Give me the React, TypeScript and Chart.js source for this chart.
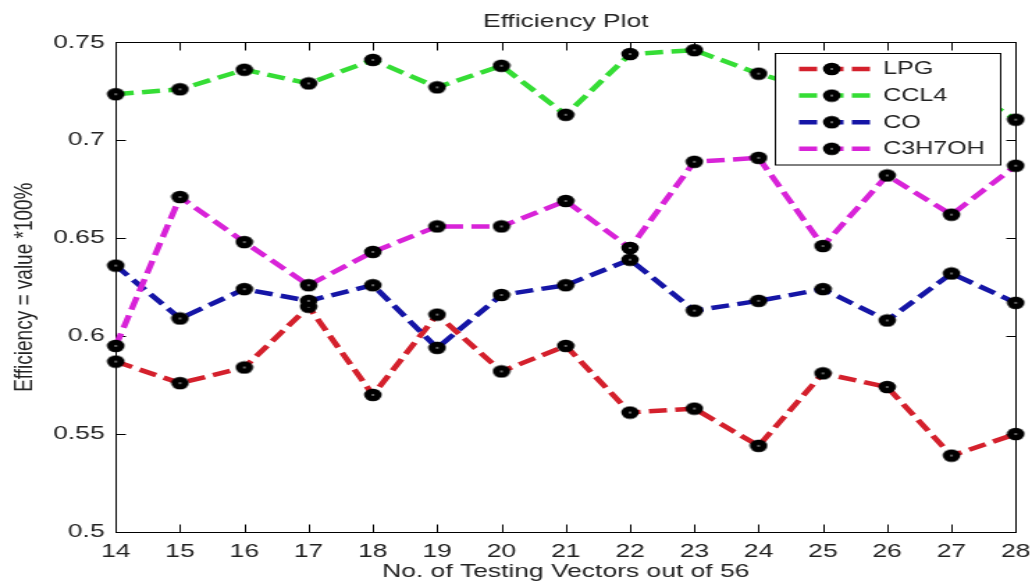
import { useEffect, useRef } from "react";
import { Chart, registerables } from "chart.js";

Chart.register(...registerables);

// Testing vectors on the x axis
const testingVectors = [14, 15, 16, 17, 18, 19, 20, 21, 22, 23, 24, 25, 26, 27, 28];

// Efficiency per gas
const lpg = [0.587, 0.576, 0.584, 0.615, 0.57, 0.611, 0.582, 0.595, 0.561, 0.563, 0.544, 0.581, 0.574, 0.539, 0.55];
const ccl4 = [0.7235, 0.726, 0.736, 0.729, 0.741, 0.727, 0.738, 0.713, 0.744, 0.746, 0.734, 0.7245, 0.729, 0.731, 0.7105];
const co = [0.636, 0.609, 0.624, 0.618, 0.626, 0.594, 0.621, 0.626, 0.639, 0.613, 0.618, 0.624, 0.608, 0.632, 0.617];
const c3h7oh = [0.595, 0.671, 0.648, 0.626, 0.643, 0.656, 0.656, 0.669, 0.645, 0.689, 0.691, 0.646, 0.682, 0.662, 0.687];

const yTicks = [0.5, 0.55, 0.6, 0.65, 0.7, 0.75];

const seriesNames = ["LPG", "CCL4", "CO", "C3H7OH"];
const seriesValues = [lpg, ccl4, co, c3h7oh];
const seriesColors = ["#d4202c", "#35dd35", "#1515a6", "#d823d8"];

const FONT = "'Liberation Sans', Arial, Helvetica, sans-serif";
const TEXT = "#222222";
// The figure is drawn on a narrower canvas and widened by CSS.
const CANVAS_W = 742;
const CANVAS_H = 588;
const DISPLAY_W = 1032;
const DASH = [13, 6];
const LINE_W = 4.5;

function makeMarker(): HTMLCanvasElement {
  const c = document.createElement("canvas");
  c.width = 14;
  c.height = 14;
  const g = c.getContext("2d")!;
  g.fillStyle = "#000";
  g.beginPath();
  g.arc(7, 7, 6.3, 0, Math.PI * 2);
  g.fill();
  g.fillStyle = "#fff";
  g.beginPath();
  g.arc(7, 7, 0.75, 0, Math.PI * 2);
  g.fill();
  return c;
}

export default function App() {
  const canvasRef = useRef<HTMLCanvasElement | null>(null);

  useEffect(() => {
    const canvas = canvasRef.current;
    if (!canvas) return;
    const marker = makeMarker();

    // Axes box with inward ticks on all four sides
    const framePlugin = {
      id: "frameBox",
      beforeDatasetsDraw(chart: any) {
        const { ctx, chartArea: a, scales } = chart;
        ctx.save();
        ctx.strokeStyle = "#000";
        ctx.lineWidth = 1;
        ctx.setLineDash([]);
        const l = Math.round(a.left) + 0.5;
        const r = Math.round(a.right) + 0.5;
        const t = Math.round(a.top) + 0.5;
        const b = Math.round(a.bottom) + 0.5;
        ctx.strokeRect(l, t, r - l, b - t);
        ctx.beginPath();
        for (const v of testingVectors) {
          const px = Math.round(scales.x.getPixelForValue(v)) + 0.5;
          ctx.moveTo(px, b);
          ctx.lineTo(px, b - 8);
          ctx.moveTo(px, t);
          ctx.lineTo(px, t + 8);
        }
        for (const v of yTicks) {
          const py = Math.round(scales.y.getPixelForValue(v)) + 0.5;
          ctx.moveTo(l, py);
          ctx.lineTo(l + 7, py);
          ctx.moveTo(r, py);
          ctx.lineTo(r - 7, py);
        }
        ctx.stroke();
        ctx.restore();
      },
    };

    // Boxed legend in the upper right corner
    const legendPlugin = {
      id: "boxLegend",
      afterDatasetsDraw(chart: any) {
        const { ctx } = chart;
        ctx.save();
        const bx = 557.5;
        const by = 53.5;
        const bw = 162;
        const bh = 111.5;
        ctx.fillStyle = "#fff";
        ctx.fillRect(bx, by, bw, bh);
        ctx.strokeStyle = "#000";
        ctx.lineWidth = 1;
        ctx.strokeRect(bx, by, bw, bh);
        seriesNames.forEach((name, i) => {
          const y = 69 + i * 26.6;
          ctx.strokeStyle = seriesColors[i];
          ctx.lineWidth = LINE_W;
          ctx.setLineDash(DASH);
          ctx.beginPath();
          ctx.moveTo(574.5, y);
          ctx.lineTo(630, y);
          ctx.stroke();
          ctx.setLineDash([]);
          ctx.drawImage(marker, 598 - 7, y - 7);
          ctx.fillStyle = TEXT;
          ctx.font = `18px ${FONT}`;
          ctx.textBaseline = "middle";
          ctx.textAlign = "left";
          ctx.fillText(name, 635, y + 0.5);
        });
        ctx.restore();
      },
    };

    const chart = new Chart(canvas, {
      type: "line",
      data: {
        datasets: seriesNames.map((name, i) => ({
          label: name,
          data: testingVectors.map((x, k) => ({ x, y: seriesValues[i][k] })),
          borderColor: seriesColors[i],
          backgroundColor: seriesColors[i],
          borderWidth: LINE_W,
          borderDash: DASH,
          tension: 0,
          fill: false,
          pointStyle: marker,
          pointRadius: 6,
          clip: false as any,
          order: seriesNames.length - i,
        })),
      },
      options: {
        responsive: false,
        animation: false,
        devicePixelRatio: 1,
        events: [],
        layout: { padding: { left: 0, right: 11.7, top: 0, bottom: 0 } },
        plugins: {
          legend: { display: false },
          tooltip: { enabled: false },
          title: {
            display: true,
            text: "Efficiency Plot",
            fullSize: false,
            color: TEXT,
            font: { family: FONT, size: 19, weight: "normal", lineHeight: 1.2 },
            padding: { top: 10.5, bottom: 9 },
          },
        },
        scales: {
          x: {
            type: "linear",
            min: 14,
            max: 28,
            afterFit: (s: any) => {
              s.height = 56;
              s.paddingLeft = 0;
              s.paddingRight = 0;
            },
            afterBuildTicks: (s: any) => {
              s.ticks = testingVectors.map((v) => ({ value: v }));
            },
            grid: { display: false, drawTicks: false },
            border: { display: false },
            ticks: {
              padding: 8,
              color: TEXT,
              font: { family: FONT, size: 19 },
              maxRotation: 0,
              autoSkip: false,
              callback: (v: any) => String(v),
            },
            title: {
              display: true,
              text: "No. of Testing Vectors out of 56",
              color: TEXT,
              font: { family: FONT, size: 19, lineHeight: 1.2 },
              padding: { top: 0, bottom: 4.6 },
            },
          },
          y: {
            type: "linear",
            min: 0.5,
            max: 0.75,
            afterFit: (s: any) => {
              s.width = 83.2;
              s.paddingTop = 0;
              s.paddingBottom = 0;
            },
            afterBuildTicks: (s: any) => {
              s.ticks = yTicks.map((v) => ({ value: v }));
            },
            grid: { display: false, drawTicks: false },
            border: { display: false },
            ticks: {
              padding: 8,
              color: TEXT,
              font: { family: FONT, size: 19 },
              callback: (v: any) => String(Number(Number(v).toFixed(2))),
            },
            title: {
              display: true,
              text: "Efficiency = value *100%",
              color: TEXT,
              font: { family: FONT, size: 19, lineHeight: 1.2 },
              padding: { top: 6.6, bottom: 0 },
            },
          },
        },
      },
      plugins: [framePlugin, legendPlugin],
    } as any);

    return () => chart.destroy();
  }, []);

  return (
    <div style={{ position: "absolute", left: 0, top: 0, width: DISPLAY_W, height: CANVAS_H, background: "#fff" }}>
      <canvas
        ref={canvasRef}
        width={CANVAS_W}
        height={CANVAS_H}
        style={{ display: "block", width: `${DISPLAY_W}px`, height: `${CANVAS_H}px` }}
      />
    </div>
  );
}
